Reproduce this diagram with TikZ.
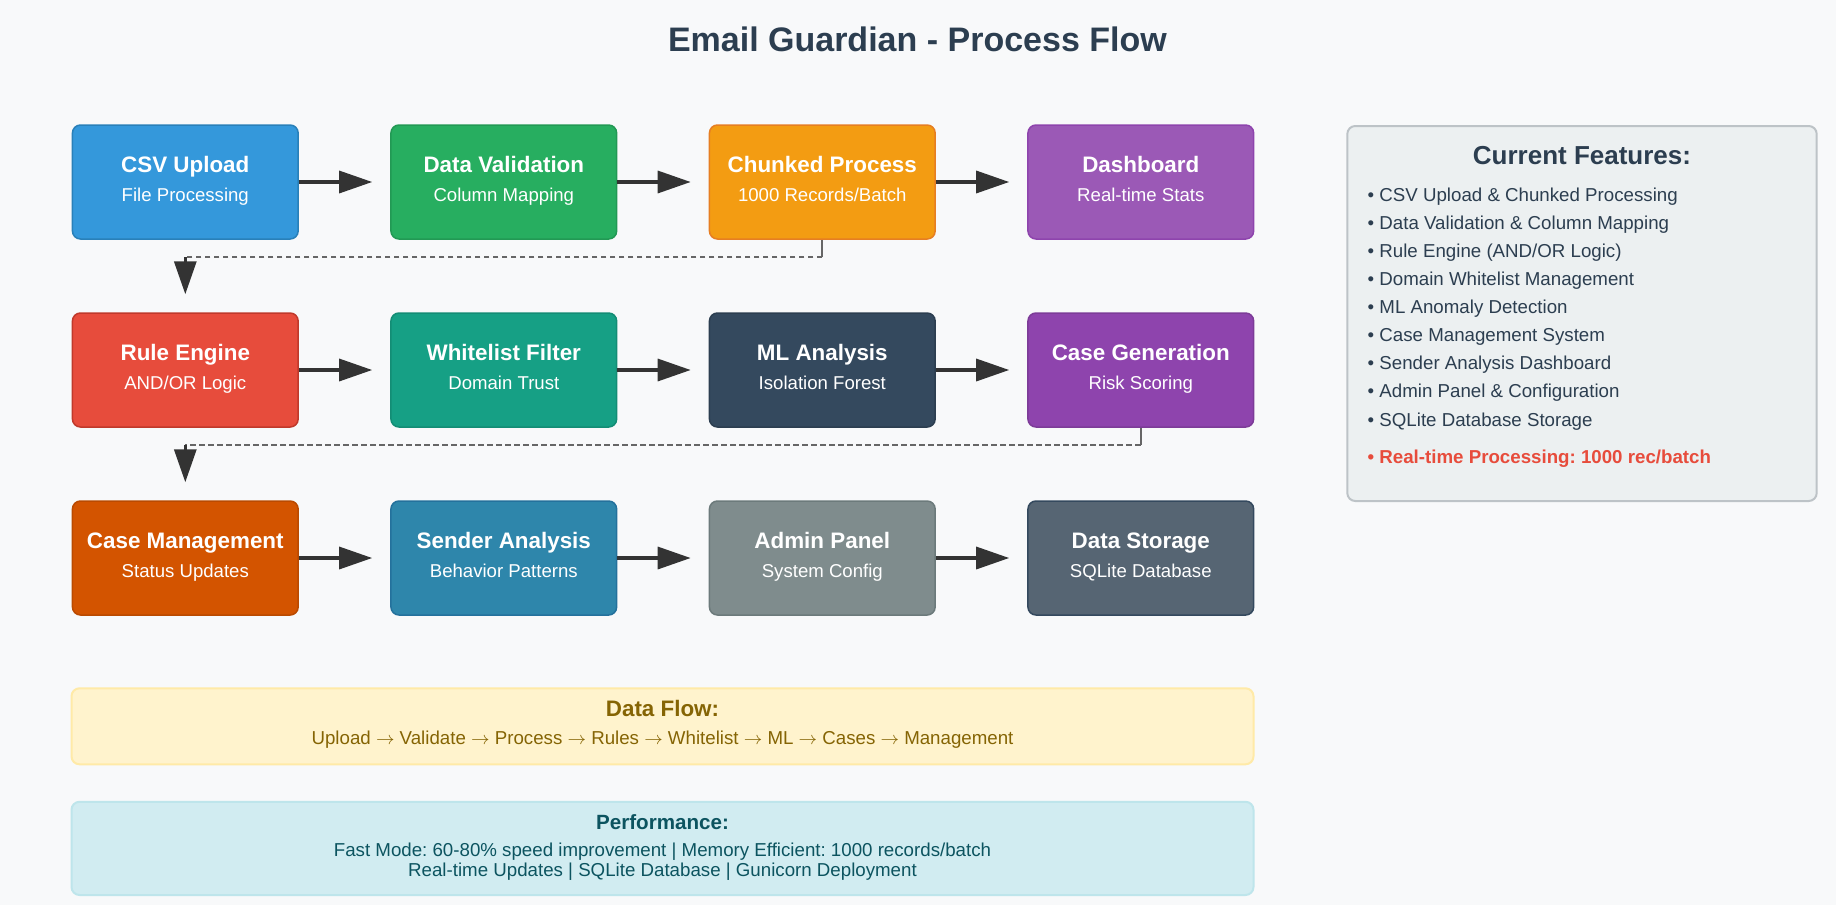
\documentclass[tikz,border=0pt]{standalone}
\usepackage{fontspec}
\setmainfont{Liberation Sans}
\usetikzlibrary{arrows.meta}
\frenchspacing
\definecolor{bgc}{HTML}{F8F9FA}
\definecolor{ink}{HTML}{2C3E50}
\definecolor{arrowc}{HTML}{333333}
\definecolor{dashc}{HTML}{666666}
\definecolor{featfill}{HTML}{ECF0F1}
\definecolor{featdraw}{HTML}{BDC3C7}
\definecolor{realred}{HTML}{E74C3C}
\definecolor{flowfill}{HTML}{FFF3CD}
\definecolor{flowdraw}{HTML}{FFEAA7}
\definecolor{flowtext}{HTML}{856404}
\definecolor{perffill}{HTML}{D1ECF1}
\definecolor{perfdraw}{HTML}{BEE5EB}
\definecolor{perftext}{HTML}{0C5460}
\definecolor{cCsv}{HTML}{3498DB}\definecolor{bCsv}{HTML}{2980B9}
\definecolor{cVal}{HTML}{27AE60}\definecolor{bVal}{HTML}{229954}
\definecolor{cChk}{HTML}{F39C12}\definecolor{bChk}{HTML}{E67E22}
\definecolor{cDsh}{HTML}{9B59B6}\definecolor{bDsh}{HTML}{8E44AD}
\definecolor{cRul}{HTML}{E74C3C}\definecolor{bRul}{HTML}{C0392B}
\definecolor{cWht}{HTML}{16A085}\definecolor{bWht}{HTML}{138D75}
\definecolor{cMl}{HTML}{34495E}\definecolor{bMl}{HTML}{2C3E50}
\definecolor{cGen}{HTML}{8E44AD}\definecolor{bGen}{HTML}{7D3C98}
\definecolor{cMan}{HTML}{D35400}\definecolor{bMan}{HTML}{BA4A00}
\definecolor{cSnd}{HTML}{2E86AB}\definecolor{bSnd}{HTML}{24719C}
\definecolor{cAdm}{HTML}{7F8C8D}\definecolor{bAdm}{HTML}{6C7A7B}
\definecolor{cSto}{HTML}{566573}\definecolor{bSto}{HTML}{34495E}
\tikzset{
  pbox/.style={rectangle, rounded corners=4pt, minimum width=112.85pt, minimum height=57pt, line width=0.75pt, inner sep=0pt},
  ptitle/.style={text=white, font=\bfseries\fontsize{11.2}{13}\selectfont, inner sep=0pt},
  psub/.style={text=white, font=\fontsize{9.3}{11}\selectfont, inner sep=0pt},
  flowarrow/.style={draw=arrowc, line width=1.65pt, -{Triangle[length=16.5pt,width=11pt]}, shorten >=9pt},
  dashline/.style={draw=dashc, line width=1pt, dash pattern=on 2.75pt off 1.75pt},
  stubline/.style={draw=dashc, line width=1pt},
  panel/.style={rectangle, rounded corners=4pt, line width=1pt, inner sep=0pt},
  txt/.style={inner sep=0pt},
}
\newcommand\procbox[6]{%
  \node[pbox, fill=c#4, draw=b#4] (#1) at (#2,#3) {};
  \node[ptitle, anchor=base] (#1t) at (#2,#3-10) {#5};
  \node[psub, anchor=base] (#1s) at (#2,#3+19) {#6};
}
\newcommand\ar{ $\rightarrow$ }
\begin{document}
\begin{tikzpicture}[x=0.5pt,y=-0.5pt]
\fill[bgc] (0,0) rectangle (1836,905);
\useasboundingbox (0,0) rectangle (1836,905);

\node[txt, anchor=base, text=ink, font=\bfseries\fontsize{17}{20}\selectfont] (title) at (917.4,51.7) {Email Guardian - Process Flow};

% row 1
\procbox{csv}{185.3}{182}{Csv}{CSV Upload}{File Processing}
\procbox{val}{503.8}{182}{Val}{Data Validation}{Column Mapping}
\procbox{chk}{822.3}{182}{Chk}{Chunked Process}{1000 Records/Batch}
\procbox{dsh}{1140.8}{182}{Dsh}{Dashboard}{Real-time Stats}
% row 2
\procbox{rul}{185.3}{370}{Rul}{Rule Engine}{AND/OR Logic}
\procbox{wht}{503.8}{370}{Wht}{Whitelist Filter}{Domain Trust}
\procbox{ml}{822.3}{370}{Ml}{ML Analysis}{Isolation Forest}
\procbox{gen}{1140.8}{370}{Gen}{Case Generation}{Risk Scoring}
% row 3
\procbox{man}{185.3}{558}{Man}{Case Management}{Status Updates}
\procbox{snd}{503.8}{558}{Snd}{Sender Analysis}{Behavior Patterns}
\procbox{adm}{822.3}{558}{Adm}{Admin Panel}{System Config}
\procbox{sto}{1140.8}{558}{Sto}{Data Storage}{SQLite Database}

% arrows
\draw[flowarrow] (csv.east) -- (val.west);
\draw[flowarrow] (val.east) -- (chk.west);
\draw[flowarrow] (chk.east) -- (dsh.west);
\draw[flowarrow] (rul.east) -- (wht.west);
\draw[flowarrow] (wht.east) -- (ml.west);
\draw[flowarrow] (ml.east) -- (gen.west);
\draw[flowarrow] (man.east) -- (snd.west);
\draw[flowarrow] (snd.east) -- (adm.west);
\draw[flowarrow] (adm.east) -- (sto.west);

\coordinate (d1) at (185.3,257);
\coordinate (d2) at (185.3,444.5);
\coordinate (k1) at (822.3,257);
\coordinate (k2) at (1140.8,444.5);
\draw[stubline] (chk.south) -- (k1);
\draw[dashline] (k1) -- (d1);
\draw[flowarrow] (d1) -- (rul.north);
\draw[stubline] (gen.south) -- (k2);
\draw[dashline] (k2) -- (d2);
\draw[flowarrow] (d2) -- (man.north);

% features panel
\node[panel, fill=featfill, draw=featdraw, minimum width=234.7pt, minimum height=187.5pt] (feat) at (1582,313.5) {};
\node[txt, anchor=base, text=ink, font=\bfseries\fontsize{13}{15}\selectfont] (feattitle) at (1582,164) {Current Features:};
\foreach \t [count=\i from 0] in {CSV Upload \& Chunked Processing, Data Validation \& Column Mapping, Rule Engine (AND/OR Logic), Domain Whitelist Management, ML Anomaly Detection, Case Management System, Sender Analysis Dashboard, Admin Panel \& Configuration, SQLite Database Storage}{
  \node[txt, anchor=base west, text=ink, font=\fontsize{9.35}{11}\selectfont] (f\i) at (1367.3,201.7+28.04*\i) {• \t};
}
\node[txt, anchor=base west, text=realred, font=\bfseries\fontsize{9.35}{11}\selectfont] (freal) at (1367.3,463.3) {• Real-time Processing: 1000 rec/batch};

% data flow
\node[panel, fill=flowfill, draw=flowdraw, minimum width=591pt, minimum height=38pt] (flow) at (662.5,726.3) {};
\node[txt, anchor=base, text=flowtext, font=\bfseries\fontsize{11.2}{13}\selectfont] (flowtitle) at (662.5,716) {Data Flow:};
\node[txt, anchor=base, text=flowtext, font=\fontsize{9.35}{11}\selectfont] (flowline) at (662.5,744.3) {Upload\ar Validate\ar Process\ar Rules\ar Whitelist\ar ML\ar Cases\ar Management};

% performance
\node[panel, fill=perffill, draw=perfdraw, minimum width=591pt, minimum height=46.6pt] (perf) at (662.5,848.4) {};
\node[txt, anchor=base, text=perftext, font=\bfseries\fontsize{10.3}{12}\selectfont] (perftitle) at (662.5,829) {Performance:};
\node[txt, anchor=base, text=perftext, font=\fontsize{9.35}{10}\selectfont] (perf1) at (662.5,856.7) {Fast Mode: 60-80\% speed improvement | Memory Efficient: 1000 records/batch};
\node[txt, anchor=base, text=perftext, font=\fontsize{9.35}{10}\selectfont] (perf2) at (662.5,876.7) {Real-time Updates | SQLite Database | Gunicorn Deployment};
\end{tikzpicture}
\end{document}
